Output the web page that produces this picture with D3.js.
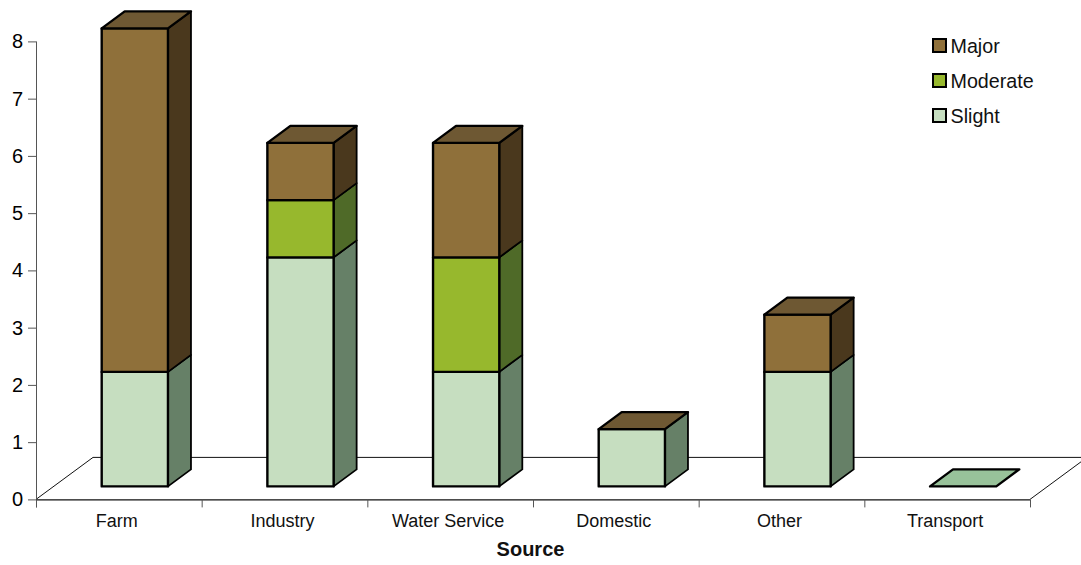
<!DOCTYPE html>
<html>
<head>
<meta charset="utf-8">
<script src="https://cdn.jsdelivr.net/npm/d3@7"></script>
<style>
html, body { margin: 0; padding: 0; background: #fff; overflow: hidden; }
svg { display: block; font-family: "Liberation Sans", Arial, sans-serif; }
</style>
</head>
<body>
<svg id="chart" width="1081" height="565"></svg>
<script>
// Incidents per source, split by severity. null = severity not recorded for that source.
const categories = ["Farm", "Industry", "Water Service", "Domestic", "Other", "Transport"];
const slight = [2, 4, 2, 1, 2, 0];
const moderate = [0, 1, 2, null, 0, null];
const major = [6, 1, 2, 0, 1, null];
const yTicks = [0, 1, 2, 3, 4, 5, 6, 7, 8];

const seriesNames = ["Slight", "Moderate", "Major"];
const seriesValues = [slight, moderate, major];
const legendOrder = ["Major", "Moderate", "Slight"];

const faceColor = { Slight: "#c6dec0", Moderate: "#97b82d", Major: "#8f703a" };
const sideColor = { Slight: "#668067", Moderate: "#4f6a28", Major: "#4a381d" };
const capColor = { Slight: "#98c29a", Moderate: "#6f8a30", Major: "#6e5833" };

const svg = d3.select("#chart");

const x = d3.scaleBand().domain(categories).range([36, 1030]);
const y = d3.scaleLinear().domain([0, 8]).range([499.4, 41.4]);

// Oblique projection of the floor and of the bars standing on it.
const floorDepth = { dx: 57, dy: -42 };
const barInset = { dx: 16, dy: -13 };
const barDepth = { dx: 23, dy: -17 };
const barWidth = x.bandwidth() * 0.4;

const pathOf = pts => "M" + pts.map(p => p.join(",")).join("L") + "Z";

// Floor outline: the back edge and both receding edges.
const [x0, x1] = x.range();
const floor = svg.append("g").attr("fill", "none").attr("stroke", "#111").attr("stroke-width", 1);
floor.append("path").attr("d", `M${x0},${y(0)}L${x0 + floorDepth.dx},${y(0) + floorDepth.dy}L1081,${y(0) + floorDepth.dy}`);
floor.append("path").attr("d", `M${x1},${y(0)}L${x1 + floorDepth.dx},${y(0) + floorDepth.dy}`);

// Axes
const yAxis = svg.append("g").attr("transform", `translate(${x0},0)`)
  .call(d3.axisLeft(y).tickValues(yTicks).tickFormat(d3.format("d")).tickSize(8).tickPadding(5));
yAxis.select(".domain").attr("stroke", "#555").attr("d", `M0.5,${y(8)}V${y(0) + 8}`);
yAxis.selectAll(".tick line").attr("stroke", "#555");
yAxis.selectAll("text").attr("font-size", 20).attr("fill", "#000").attr("font-family", "Liberation Sans");

const xAxis = svg.append("g").attr("transform", `translate(0,${y(0)})`);
xAxis.append("line").attr("x1", x0).attr("x2", x1).attr("y1", 0.5).attr("y2", 0.5).attr("stroke", "#111").attr("stroke-width", 1.2);
xAxis.selectAll("line.sep").data(categories.concat("end")).join("line").attr("class", "sep")
  .attr("x1", (d, i) => x0 + i * x.step() + 0.5).attr("x2", (d, i) => x0 + i * x.step() + 0.5)
  .attr("y1", 0).attr("y2", 8).attr("stroke", "#555");
xAxis.selectAll("text").data(categories).join("text")
  .attr("x", d => x(d) + x.bandwidth() / 2 - 2).attr("y", 28)
  .attr("text-anchor", "middle").attr("font-size", 18).attr("fill", "#111").text(d => d);

svg.append("text").attr("x", 530.5).attr("y", 556).attr("text-anchor", "middle")
  .attr("font-size", 20).attr("font-weight", "bold").attr("fill", "#111").text("Source");

// Stacked 3D bars
const bars = svg.append("g").attr("stroke", "#000").attr("stroke-linejoin", "round");
categories.forEach((cat, c) => {
  const left = x(cat) + barInset.dx + (x.bandwidth() - barWidth) / 2;
  const right = left + barWidth;
  const yAt = v => y(v) + barInset.dy;
  let total = 0, capSeries = null;
  seriesNames.forEach((name, s) => {
    const v = seriesValues[s][c];
    if (v === null) return;
    capSeries = name;
    const lo = total, hi = total + v;
    total = hi;
    if (v === 0) return;
    bars.append("path").attr("fill", sideColor[name]).attr("stroke-width", 1.8)
      .attr("d", pathOf([[right, yAt(lo)], [right + barDepth.dx, yAt(lo) + barDepth.dy], [right + barDepth.dx, yAt(hi) + barDepth.dy], [right, yAt(hi)]]));
    bars.append("rect").attr("fill", faceColor[name]).attr("stroke-width", 2.4)
      .attr("x", left).attr("y", yAt(hi)).attr("width", barWidth).attr("height", yAt(lo) - yAt(hi));
  });
  bars.append("path").attr("fill", capColor[capSeries]).attr("stroke-width", 2.4)
    .attr("d", pathOf([[left, yAt(total)], [left + barDepth.dx, yAt(total) + barDepth.dy], [right + barDepth.dx, yAt(total) + barDepth.dy], [right, yAt(total)]]));
});

// Legend
const legendY = d3.scalePoint().domain(legendOrder).range([46, 116]);
const legend = svg.append("g");
legend.selectAll("rect").data(legendOrder).join("rect")
  .attr("x", 933).attr("y", d => legendY(d) - 7).attr("width", 13).attr("height", 13)
  .attr("fill", d => faceColor[d]).attr("stroke", "#000").attr("stroke-width", 2);
legend.selectAll("text").data(legendOrder).join("text")
  .attr("x", 950.5).attr("y", d => legendY(d) + 7).attr("font-size", 19.7).attr("fill", "#111").text(d => d);
</script>
</body>
</html>
